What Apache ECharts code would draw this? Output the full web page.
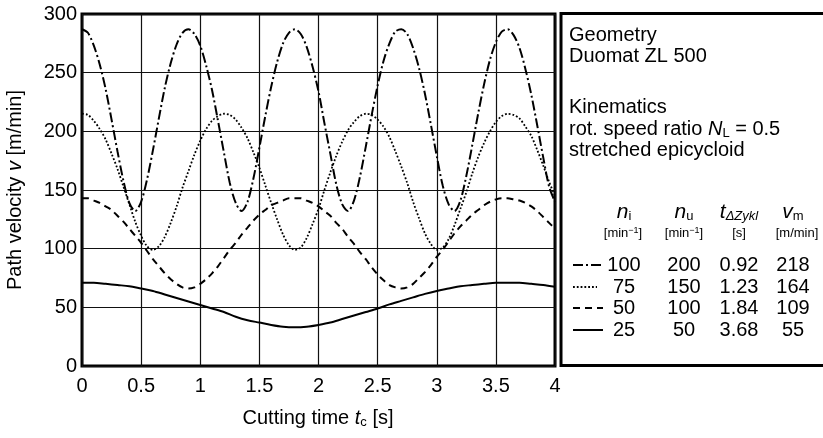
<!DOCTYPE html>
<html>
<head>
<meta charset="utf-8">
<title>Path velocity</title>
<script src="https://cdn.jsdelivr.net/npm/echarts@6/dist/echarts.min.js"></script>
<style>
  html, body { margin: 0; padding: 0; background: #fff; }
  #chart { width: 823px; height: 438px; }
</style>
</head>
<body>
<div id="chart"></div>
<script>
// cutting time [s]
const tFine = [
  0, 0.05, 0.1, 0.15, 0.2, 0.25, 0.3, 0.35, 0.4, 0.45,
  0.5, 0.55, 0.6, 0.65, 0.7, 0.75, 0.8, 0.85, 0.9, 0.95,
  1, 1.05, 1.1, 1.15, 1.2, 1.25, 1.3, 1.35, 1.4, 1.45,
  1.5, 1.55, 1.6, 1.65, 1.7, 1.75, 1.8, 1.85, 1.9, 1.95,
  2, 2.05, 2.1, 2.15, 2.2, 2.25, 2.3, 2.35, 2.4, 2.45,
  2.5, 2.55, 2.6, 2.65, 2.7, 2.75, 2.8, 2.85, 2.9, 2.95,
  3, 3.05, 3.1, 3.15, 3.2, 3.25, 3.3, 3.35, 3.4, 3.45,
  3.5, 3.55, 3.6, 3.65, 3.7, 3.75, 3.8, 3.85, 3.9, 3.95,
  4
]
const tCoarse = [
  0, 0.1, 0.2, 0.3, 0.4, 0.5, 0.6, 0.7, 0.8, 0.9,
  1, 1.1, 1.2, 1.3, 1.4, 1.5, 1.6, 1.7, 1.8, 1.9,
  2, 2.1, 2.2, 2.3, 2.4, 2.5, 2.6, 2.7, 2.8, 2.9,
  3, 3.1, 3.2, 3.3, 3.4, 3.5, 3.6, 3.7, 3.8, 3.9,
  4
]

// path velocity v [m/min]
const v100 = [
  287, 284, 273, 257, 236, 210, 183, 158, 139, 132,
  140, 159, 184, 211, 237, 258, 274, 284, 287, 283,
  273, 256, 235, 209, 182, 156, 139, 132, 140, 160,
  186, 213, 238, 259, 275, 284, 287, 283, 272, 255,
  234, 207, 181, 155, 138, 132, 141, 161, 187, 214,
  239, 260, 275, 285, 287, 283, 271, 254, 232, 206,
  179, 154, 138, 132, 141, 162, 188, 215, 240, 261,
  276, 285, 287, 282, 271, 253, 231, 205, 178, 153,
  140
]
const v75 = [
  215, 214, 209, 202, 193, 181, 168, 153, 138, 123,
  111, 102, 99, 102, 110, 122, 136, 152, 166, 180,
  192, 202, 209, 213, 215, 214, 210, 203, 194, 182,
  169, 154, 139, 125, 112, 103, 99, 101, 109, 121,
  134, 150, 165, 179, 191, 201, 208, 213, 215, 214,
  210, 204, 195, 183, 170, 156, 140, 126, 113, 104,
  99, 101, 108, 120, 134, 148, 164, 178, 190, 200,
  208, 213, 215, 214, 211, 204, 196, 184, 171, 157,
  145
]
const v50 = [
  143, 143, 141, 139, 136, 133, 128, 123, 117, 111,
  105, 98, 91, 85, 79, 74, 70, 67, 66, 67,
  70, 74, 79, 85, 92, 99, 105, 112, 118, 124,
  129, 133, 137, 139, 141, 143, 143, 143, 141, 139,
  136, 132, 128, 122, 117, 110, 104, 97, 91, 84,
  78, 73, 69, 67, 66, 67, 70, 75, 80, 86,
  93, 99, 106, 113, 119, 124, 129, 133, 137, 140,
  142, 143, 143, 142, 141, 139, 136, 132, 127, 122,
  117
]
const v25 = [
  71, 71, 70, 69, 68, 66, 64, 61, 58, 55,
  52, 49, 46, 42, 39, 37, 35, 33.5, 33, 33.5,
  35, 37, 40, 43, 46, 49, 52.5, 55.5, 58.5, 61.5,
  64, 66, 68, 69, 70, 71, 71, 71, 70, 69,
  67.5
]

// legend table
const colNi = ['100', '75', '50', '25']
const colNu = ['200', '150', '100', '50']
const colT = ['0.92', '1.23', '1.84', '3.68']
const colVm = ['218', '164', '109', '55']

const FONT = 'Liberation Sans, Arial, Helvetica, sans-serif'
const chart = echarts.init(document.getElementById('chart'))

const lineStyles = [
  { width: 2, type: [10, 3, 2, 3] },
  { width: 1.8, type: [1.8, 2] },
  { width: 2, type: [7, 5] },
  { width: 2, type: 'solid' }
]

function pairs(ts, vs) {
  return ts.map((t, i) => [t, vs[i]])
}

function txt(x, y, text, rich, align) {
  return {
    type: 'text',
    x: x,
    y: y,
    silent: true,
    style: {
      text: text,
      rich: rich,
      fontFamily: FONT,
      fontSize: 20,
      fill: '#000',
      align: align || 'left',
      verticalAlign: 'middle'
    }
  }
}

const R = {
  a: { fontFamily: FONT, fontSize: 20, lineHeight: 22, color: '#000' },
  i: { fontFamily: FONT, fontSize: 20, lineHeight: 22, fontStyle: 'italic', color: '#000' },
  h: { fontFamily: FONT, fontSize: 21, lineHeight: 22, fontStyle: 'italic', color: '#000' },
  s: { fontFamily: FONT, fontSize: 13, lineHeight: 14, verticalAlign: 'bottom', color: '#000' },
  si: { fontFamily: FONT, fontSize: 13, lineHeight: 14, verticalAlign: 'bottom', fontStyle: 'italic', color: '#000' },
  u: { fontFamily: FONT, fontSize: 13, lineHeight: 14, color: '#000' },
  p: { fontFamily: FONT, fontSize: 9, lineHeight: 8, verticalAlign: 'top', color: '#000' }
}

const cols = [624, 684, 739, 793]
const rowY = [265, 287, 308, 330]

const graphics = [
  // legend box
  {
    type: 'rect',
    shape: { x: 561, y: 13.5, width: 300, height: 352 },
    style: { fill: 'none', stroke: '#000', lineWidth: 3 },
    silent: true
  },
  txt(569, 35, 'Geometry'),
  txt(569, 56, 'Duomat ZL 500'),
  txt(569, 107, 'Kinematics'),
  txt(569, 129, '{a|rot. speed ratio }{i|N}{s|L}{a| = 0.5}', R),
  txt(569, 150, 'stretched epicycloid'),
  // table header
  txt(cols[0], 212, '{h|n}{s|i}', R, 'center'),
  txt(cols[1], 212, '{h|n}{s|u}', R, 'center'),
  txt(cols[2], 212, '{h|t}{si|ΔZykl}', R, 'center'),
  txt(cols[3], 212, '{h|v}{s|m}', R, 'center'),
  txt(cols[0] - 1, 233, '{u|[min}{p|−1}{u|]}', R, 'center'),
  txt(cols[1], 233, '{u|[min}{p|−1}{u|]}', R, 'center'),
  txt(cols[2], 233, '{u|[s]}', R, 'center'),
  txt(cols[3] + 4, 233, '{u|[m/min]}', R, 'center'),
  // axis names
  {
    type: 'text',
    x: 15,
    y: 190,
    rotation: Math.PI / 2,
    silent: true,
    style: {
      text: '{a|Path velocity }{i|v}{a| [m/min]}',
      rich: R,
      fontFamily: FONT,
      fontSize: 20,
      align: 'center',
      verticalAlign: 'middle'
    }
  },
  txt(318, 418, '{a|Cutting time }{i|t}{s|c}{a| [s]}', R, 'center')
]

rowY.forEach((y, i) => {
  const ls = lineStyles[i]
  graphics.push({
    type: 'line',
    silent: true,
    shape: { x1: 573, y1: y, x2: i === 1 ? 597 : 603, y2: y },
    style: {
      stroke: '#000',
      lineWidth: ls.width,
      lineDash: ls.type === 'solid' ? null : ls.type
    }
  })
  graphics.push(txt(cols[0], y, colNi[i], null, 'center'))
  graphics.push(txt(cols[1], y, colNu[i], null, 'center'))
  graphics.push(txt(cols[2], y, colT[i], null, 'center'))
  graphics.push(txt(cols[3], y, colVm[i], null, 'center'))
})

const seriesData = [
  pairs(tFine, v100),
  pairs(tFine, v75),
  pairs(tFine, v50),
  pairs(tCoarse, v25)
]
const names = ['n = 100', 'n = 75', 'n = 50', 'n = 25']

const option = {
  animation: false,
  backgroundColor: '#fff',
  grid: {
    left: 82,
    top: 14,
    right: 268,
    bottom: 72,
    show: true,
    borderColor: '#000',
    borderWidth: 3,
    backgroundColor: 'transparent'
  },
  xAxis: {
    type: 'value',
    min: 0,
    max: 4,
    interval: 0.5,
    axisLine: { show: false },
    axisTick: { show: false },
    axisLabel: { color: '#000', fontFamily: FONT, fontSize: 20, margin: 10 },
    splitLine: { show: true, lineStyle: { color: '#111', width: 1.2 } }
  },
  yAxis: {
    type: 'value',
    min: 0,
    max: 300,
    interval: 50,
    axisLine: { show: false },
    axisTick: { show: false },
    axisLabel: { color: '#000', fontFamily: FONT, fontSize: 20, margin: 5 },
    splitLine: { show: true, lineStyle: { color: '#111', width: 1.2 } }
  },
  series: seriesData.map((d, i) => ({
    name: names[i],
    type: 'line',
    data: d,
    showSymbol: false,
    smooth: 0.3,
    z: 3,
    lineStyle: { color: '#000', width: lineStyles[i].width, type: lineStyles[i].type }
  })),
  graphic: graphics
}

chart.setOption(option)
</script>
</body>
</html>
